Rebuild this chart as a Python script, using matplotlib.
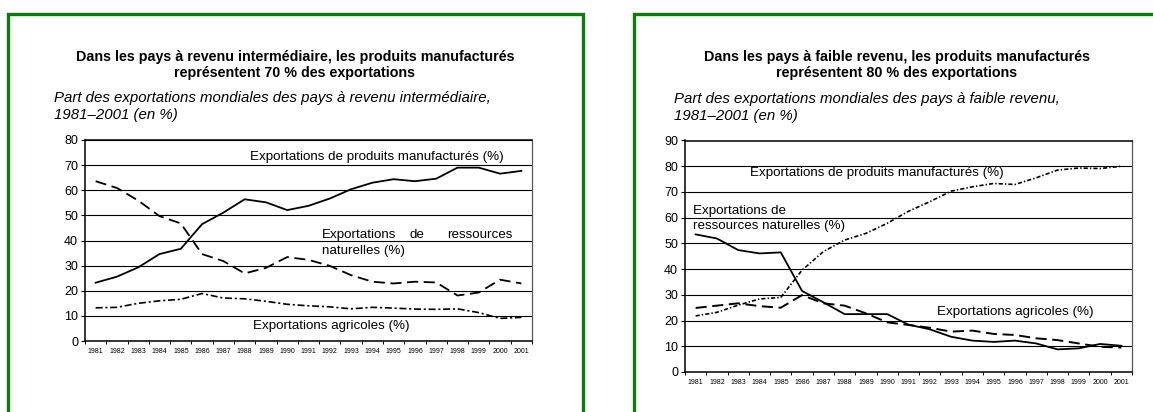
import matplotlib
matplotlib.use("Agg")
import matplotlib.pyplot as plt
from matplotlib.patches import Rectangle

plt.rcParams['font.family'] = ['Liberation Sans', 'DejaVu Sans']
plt.rcParams['lines.scale_dashes'] = False

# Data (share of exports, %)
years = [str(y) for y in range(1981, 2002)]

# Pays a revenu intermediaire
mid_manuf = [23.2, 25.6, 29.3, 34.6, 36.7, 46.5, 51.1, 56.4, 55.2, 52.1, 53.8,
             56.7, 60.4, 63.0, 64.4, 63.6, 64.6, 69.0, 69.0, 66.6, 67.7]
mid_natural = [63.6, 60.9, 55.9, 49.7, 46.8, 34.6, 31.8, 26.9, 29.1, 33.4, 32.3,
               29.9, 26.2, 23.6, 22.9, 23.6, 23.3, 18.1, 19.3, 24.4, 22.9]
mid_agri = [13.2, 13.4, 15.0, 16.0, 16.6, 18.9, 17.1, 16.8, 15.8, 14.6, 14.0,
            13.6, 12.8, 13.4, 13.1, 12.7, 12.6, 12.8, 11.3, 9.0, 9.4]

# Pays a faible revenu
low_manuf = [21.8, 23.2, 26.0, 28.4, 29.0, 39.6, 46.8, 51.3, 53.9, 57.8, 62.5,
             66.2, 70.3, 72.0, 73.3, 72.9, 75.5, 78.5, 79.3, 79.1, 80.0]
low_natural = [53.5, 51.9, 47.4, 46.1, 46.5, 31.5, 27.1, 22.5, 22.5, 22.5, 18.4,
               16.6, 13.7, 12.2, 11.7, 12.2, 11.1, 8.8, 9.2, 10.9, 10.2]
low_agri = [24.9, 25.8, 26.7, 25.6, 25.0, 29.9, 26.7, 25.8, 22.8, 19.3, 18.3,
            17.2, 15.7, 16.1, 14.8, 14.4, 13.1, 12.4, 11.1, 9.8, 9.5]

W, H = 1153, 412
fig = plt.figure(figsize=(W / 100, H / 100), dpi=100)


def px_box(x0, y0, x1, y1):
    return [x0 / W, 1 - y1 / H, (x1 - x0) / W, (y1 - y0) / H]


def px_pt(x, y):
    return x / W, 1 - y / H


# green frames
green = '#0a7d0a'
for x0, x1 in [(8, 583), (634, 1160)]:
    fig.add_artist(Rectangle(px_pt(x0, 430), (x1 - x0) / W, (430 - 14) / H,
                             transform=fig.transFigure, fill=False,
                             edgecolor=green, linewidth=2.4, clip_on=False))


def setup_axes(ax, ymax):
    x = range(len(years))
    ax.set_xlim(-0.5, len(years) - 0.5)
    ax.set_ylim(0, ymax)
    ax.set_yticks(range(0, ymax + 1, 10))
    ax.tick_params(axis='y', labelsize=9, length=3, width=0.8, pad=2)
    ax.set_xticks(list(x))
    ax.set_xticklabels(years, fontsize=5)
    ax.tick_params(axis='x', which='major', length=0, pad=5)
    ax.set_xticks([i - 0.5 for i in range(len(years) + 1)], minor=True)
    ax.tick_params(axis='x', which='minor', length=2.5, width=0.7)
    ax.grid(axis='y', color='black', linewidth=0.8)
    ax.set_axisbelow(True)
    for s in ['left', 'bottom', 'top']:
        ax.spines[s].set_linewidth(1.1)
    ax.spines['right'].set_linewidth(0.9)
    ax.spines['right'].set_color('#555555')


fs_lab = 9.6
lab = dict(fontsize=fs_lab, va='center', ha='left')
fs_title = 10.3
fs_sub = 10.8

# ---- left panel ----
ax1 = fig.add_axes(px_box(85, 140, 532, 341))
setup_axes(ax1, 80)
xi = list(range(len(years)))
ax1.plot(xi, mid_manuf, color='black', linewidth=1.3)
ax1.plot(xi, mid_natural, color='black', linewidth=1.3, linestyle=(0, (8, 4)))
ax1.plot(xi, mid_agri, color='black', linewidth=1.2, linestyle=(0, (5, 2, 1.5, 2)))
ax1.text(7.25, 73.2, 'Exportations de produits manufacturés (%)', **lab)
ax1.text(10.63, 42.3, 'Exportations', **lab)
ax1.text(15.1, 42.3, 'de', fontsize=fs_lab, va='center', ha='center')
ax1.text(19.6, 42.3, 'ressources', fontsize=fs_lab, va='center', ha='right')
ax1.text(10.63, 36.0, 'naturelles (%)', **lab)
ax1.text(7.39, 5.8, 'Exportations agricoles (%)', **lab)

fig.text(*px_pt(295, 57), 'Dans les pays à revenu intermédiaire, les produits manufacturés',
         fontsize=fs_title, fontweight='bold', ha='center', va='center')
fig.text(*px_pt(295, 73), 'représentent 70 % des exportations',
         fontsize=fs_title, fontweight='bold', ha='center', va='center')
fig.text(*px_pt(54, 98), 'Part des exportations mondiales des pays à revenu intermédiaire,',
         fontsize=fs_sub, style='italic', ha='left', va='center')
fig.text(*px_pt(54, 115), '1981–2001 (en %)',
         fontsize=fs_sub, style='italic', ha='left', va='center')

# ---- right panel ----
ax2 = fig.add_axes(px_box(685, 140.5, 1132, 372))
setup_axes(ax2, 90)
ax2.plot(xi, low_natural, color='black', linewidth=1.3)
ax2.plot(xi, low_agri, color='black', linewidth=1.4, linestyle=(0, (8, 4)))
ax2.plot(xi, low_manuf, color='black', linewidth=1.2, linestyle=(0, (3, 1.5, 1, 1.5)))
ax2.text(2.55, 77.2, 'Exportations de produits manufacturés (%)', **lab)
ax2.text(-0.12, 62.5, 'Exportations de', **lab)
ax2.text(-0.12, 56.6, 'ressources naturelles (%)', **lab)
ax2.text(11.34, 23.5, 'Exportations agricoles (%)', **lab)

fig.text(*px_pt(897, 57), 'Dans les pays à faible revenu, les produits manufacturés',
         fontsize=fs_title, fontweight='bold', ha='center', va='center')
fig.text(*px_pt(897, 73), 'représentent 80 % des exportations',
         fontsize=fs_title, fontweight='bold', ha='center', va='center')
fig.text(*px_pt(674, 99), 'Part des exportations mondiales des pays à faible revenu,',
         fontsize=fs_sub, style='italic', ha='left', va='center')
fig.text(*px_pt(674, 116), '1981–2001 (en %)',
         fontsize=fs_sub, style='italic', ha='left', va='center')

fig.savefig('out.png', dpi=100)
